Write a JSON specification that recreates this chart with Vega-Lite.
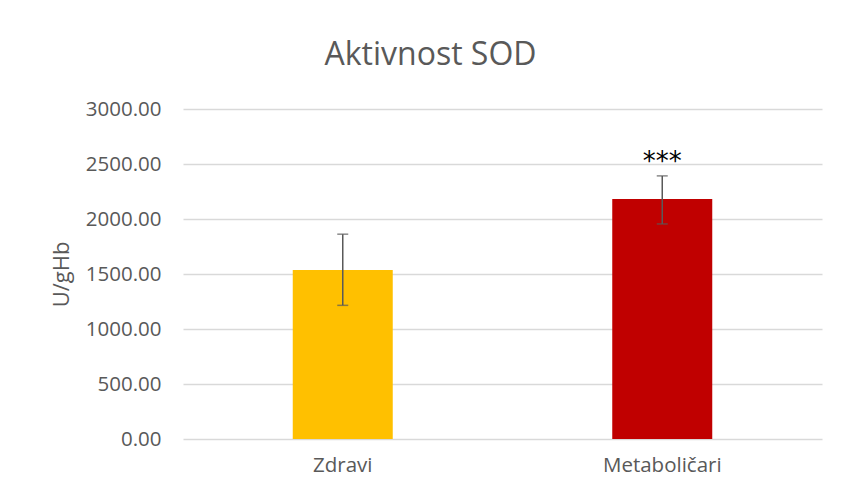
{
  "$schema": "https://vega.github.io/schema/vega-lite/v6.json",
  "autosize": "none",
  "width": 639,
  "height": 330,
  "padding": {"left": 183, "top": 109, "right": 20, "bottom": 53},
  "background": "white",
  "title": {
    "text": "Aktivnost SOD",
    "font": "Open Sans",
    "fontSize": 32,
    "fontWeight": "normal",
    "color": "#595959",
    "anchor": "middle",
    "dx": -72,
    "offset": 27
  },
  "data": {
    "values": [
      {"group": "Zdravi", "mean": 1536, "lo": 1215, "hi": 1862, "sig": "", "color": "#FFC000"},
      {"group": "Metaboličari", "mean": 2182, "lo": 1955, "hi": 2392, "sig": "***", "color": "#C00000"}
    ]
  },
  "encoding": {
    "x": {
      "field": "group",
      "type": "nominal",
      "sort": null,
      "scale": {"paddingInner": 0, "paddingOuter": 0},
      "axis": {
        "title": null,
        "labelAngle": 0,
        "ticks": false,
        "domain": false,
        "labelPadding": 16,
        "labelFontSize": 20.5
      }
    }
  },
  "layer": [
    {
      "mark": {"type": "bar", "size": 100},
      "encoding": {
        "y": {
          "field": "mean",
          "type": "quantitative",
          "scale": {"domain": [0, 3000], "nice": false},
          "axis": {
            "title": "U/gHb",
            "values": [0, 500, 1000, 1500, 2000, 2500, 3000],
            "format": ".2f",
            "ticks": false,
            "domain": false,
            "labelPadding": 22,
            "labelFontSize": 20.5,
            "grid": true,
            "gridColor": "#D9D9D9",
            "gridWidth": 1.3,
            "titleFontSize": 22,
            "titleFontWeight": "normal",
            "titleColor": "#595959",
            "titleFont": "Open Sans",
            "titleX": -122,
            "titleY": 165,
            "titleBaseline": "middle"
          }
        },
        "color": {"field": "color", "type": "nominal", "scale": null}
      }
    },
    {
      "mark": {"type": "rule", "color": "#595959", "strokeWidth": 1.5},
      "encoding": {
        "y": {"field": "lo", "type": "quantitative"},
        "y2": {"field": "hi"}
      }
    },
    {
      "mark": {"type": "tick", "color": "#595959", "thickness": 1.5, "size": 11},
      "encoding": {"y": {"field": "lo", "type": "quantitative"}}
    },
    {
      "mark": {"type": "tick", "color": "#595959", "thickness": 1.5, "size": 11},
      "encoding": {"y": {"field": "hi", "type": "quantitative"}}
    },
    {
      "mark": {"type": "text", "font": "DejaVu Sans", "fontSize": 26, "fontWeight": "normal", "color": "#000000", "baseline": "alphabetic"},
      "encoding": {
        "y": {"datum": 2445, "type": "quantitative"},
        "text": {"field": "sig"}
      }
    }
  ],
  "config": {
    "view": {"stroke": null},
    "axis": {
      "labelFont": "Open Sans",
      "labelColor": "#595959",
      "titleFont": "Open Sans",
      "titleColor": "#595959"
    }
  }
}
